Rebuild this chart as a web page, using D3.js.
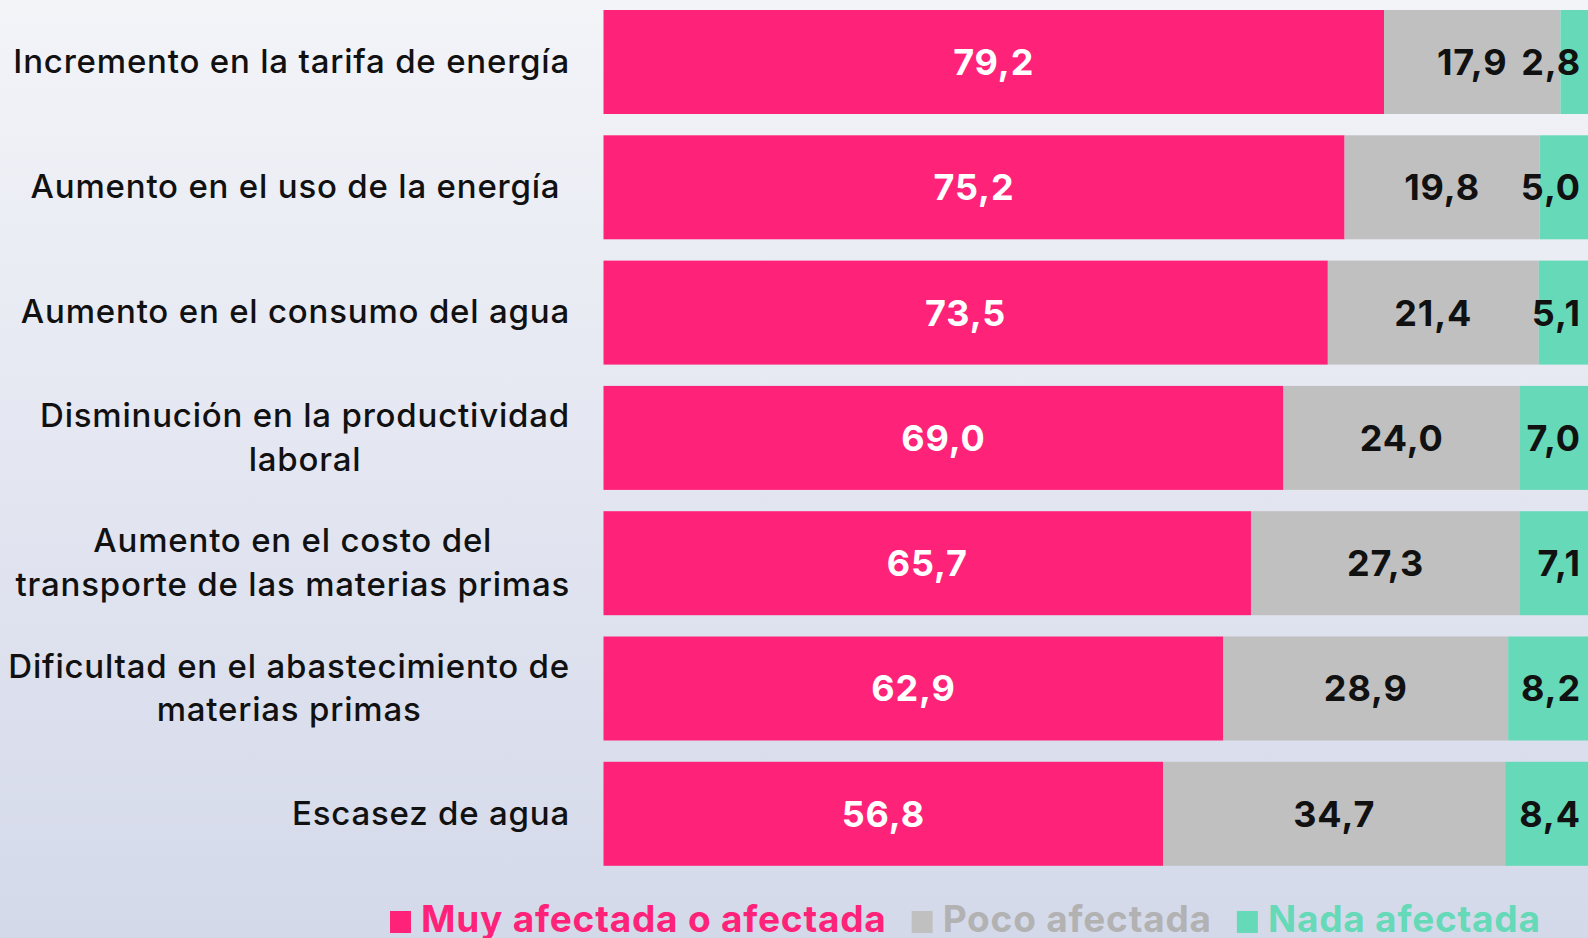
<!DOCTYPE html>
<html><head><meta charset="utf-8">
<script src="https://cdn.jsdelivr.net/npm/d3@7"></script>
<style>
html,body{margin:0;padding:0;overflow:hidden;}
svg{display:block;}
</style></head>
<body><svg id="chart" width="1588" height="938"></svg>
<script>
const categories = [
  "Incremento en la tarifa de energía",
  "Aumento en el uso de la energía ",
  "Aumento en el consumo del agua",
  "Disminución en la productividad\nlaboral",
  "Aumento en el costo del\ntransporte de las materias primas",
  "Dificultad en el abastecimiento de\nmaterias primas",
  "Escasez de agua"
];
const seriesNames = ["Muy afectada o afectada", "Poco afectada", "Nada afectada"];
const muyAfectada = [79.2, 75.2, 73.5, 69.0, 65.7, 62.9, 56.8];
const pocoAfectada = [17.9, 19.8, 21.4, 24.0, 27.3, 28.9, 34.7];
const nadaAfectada = [2.8, 5.0, 5.1, 7.0, 7.1, 8.2, 8.4];

const colors = ["#FF2279", "#C0C0C0", "#66D9B8"];
const legendTextColors = ["#FF2279", "#B2B2B2", "#66D9B8"];
const valueColors = ["#FFFFFF", "#111111", "#111111"];

const rows = categories.map((c, i) => ({
  cat: c, s0: muyAfectada[i], s1: pocoAfectada[i], s2: nadaAfectada[i]
}));
const keys = ["s0", "s1", "s2"];
const stack = d3.stack().keys(keys)(rows);

const svg = d3.select("#chart");
const defs = svg.append("defs");
const grad = defs.append("linearGradient").attr("id", "bg")
  .attr("x1", 0).attr("y1", 0).attr("x2", 0).attr("y2", 1);
grad.append("stop").attr("offset", "0%").attr("stop-color", "#F3F4F8");
grad.append("stop").attr("offset", "100%").attr("stop-color", "#D4D9EA");
svg.append("rect").attr("width", 1588).attr("height", 938).attr("fill", "url(#bg)");

const x = d3.scaleLinear().domain([0, 100]).range([603.5, 1589]);
const y = d3.scaleBand().domain(categories).range([10, 865.8]).paddingInner(0.17).paddingOuter(0);

const fmt = v => d3.format(".1f")(v).replace(".", ",");

const layers = svg.append("g").selectAll("g").data(stack).join("g")
  .attr("fill", (d, i) => colors[i]);
layers.selectAll("rect").data(d => d).join("rect")
  .attr("x", d => x(d[0]))
  .attr("width", d => x(d[1]) - x(d[0]))
  .attr("y", d => y(d.data.cat))
  .attr("height", y.bandwidth());

// value labels
const valFont = "'Inter', 'Lato', sans-serif";
stack.forEach((layer, li) => {
  svg.append("g").selectAll("text").data(layer).join("text")
    .attr("x", d => li === 2 ? x.range()[1] - 8 : (x(d[0]) + x(d[1])) / 2)
    .attr("y", d => y(d.data.cat) + y.bandwidth() / 2)
    .attr("dy", "0.36em")
    .attr("text-anchor", li === 2 ? "end" : "middle")
    .attr("fill", valueColors[li])
    .style("font-family", valFont)
    .style("font-weight", 700)
    .style("font-size", "36px")
    .style("letter-spacing", "0.9px")
    .text(d => fmt(d[1] - d[0]));
});

// category labels
const labelRight = 570;
const lineH = 43.5;
const labG = svg.append("g");
categories.forEach(c => {
  const lines = c.split("\n");
  const t = labG.append("text")
    .style("font-family", "'Inter', sans-serif")
    .style("font-weight", 500)
    .style("font-size", "33px")
    .style("letter-spacing", "0.8px")
    .style("white-space", "pre")
    .attr("fill", "#111");
  const cy = y(c) + y.bandwidth() / 2;
  const tspans = lines.map((ln, k) => t.append("tspan")
    .attr("text-anchor", "middle")
    .attr("y", cy + (k - (lines.length - 1) / 2) * lineH)
    .attr("dy", "0.33em")
    .text(ln));
  const maxW = d3.max(tspans, s => s.node().getComputedTextLength());
  tspans.forEach(s => s.attr("x", labelRight - maxW / 2));
});

// legend
const leg = svg.append("g");
let lx = 390;
const legBase = 932;
seriesNames.forEach((n, i) => {
  leg.append("rect").attr("x", lx).attr("y", legBase - 21).attr("width", 21).attr("height", 22)
    .attr("fill", colors[i]);
  const t = leg.append("text").attr("x", lx + 31).attr("y", legBase)
    .style("font-family", "'Inter', sans-serif")
    .style("font-weight", 700)
    .style("font-size", "37px")
    .style("letter-spacing", "0.8px")
    .attr("fill", legendTextColors[i])
    .text(n);
  lx = lx + 31 + t.node().getComputedTextLength() + 25;
});
</script></body></html>
